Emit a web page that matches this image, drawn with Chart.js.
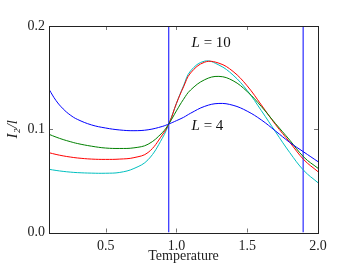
<!DOCTYPE html>
<html>
<head>
<meta charset="utf-8">
<script src="https://cdn.jsdelivr.net/npm/chart.js@4"></script>
<style>
  html, body { margin: 0; padding: 0; background: #fff; }
  #wrap { width: 353px; height: 265px; }
</style>
</head>
<body>
<div id="wrap"><canvas id="chart" width="353" height="265"></canvas></div>
<script>
// Temperature samples shared by all curves
const temps = [0.1, 0.15, 0.2, 0.25, 0.3, 0.4, 0.5, 0.6, 0.7, 0.8, 0.9, 0.95, 1.0, 1.05, 1.1, 1.2, 1.3, 1.4, 1.5, 1.6, 1.7, 1.8, 1.9, 2.0];

// I2/l for each lattice size (blue = L=4 ... cyan = L=10)
const blueVals  = [0.1387, 0.1277, 0.1197, 0.1138, 0.1096, 0.1042, 0.1012, 0.0993, 0.0986, 0.0995, 0.1027, 0.1053, 0.1083, 0.1115, 0.1155, 0.1222, 0.1250, 0.1232, 0.1175, 0.1090, 0.0983, 0.0873, 0.0779, 0.0686];
const greenVals = [0.0951, 0.0924, 0.0900, 0.0880, 0.0862, 0.0836, 0.0818, 0.0814, 0.0820, 0.0855, 0.0967, 0.1060, 0.1178, 0.1290, 0.1380, 0.1480, 0.1512, 0.1470, 0.1365, 0.1220, 0.1055, 0.0895, 0.0730, 0.0622];
const redVals   = [0.0773, 0.0756, 0.0742, 0.0731, 0.0722, 0.0711, 0.0708, 0.0711, 0.0725, 0.0775, 0.0944, 0.1062, 0.1250, 0.1410, 0.1545, 0.1650, 0.1640, 0.1560, 0.1420, 0.1235, 0.1045, 0.0875, 0.0705, 0.0589];
const cyanVals  = [0.0612, 0.0601, 0.0592, 0.0585, 0.0580, 0.0575, 0.0574, 0.0582, 0.0620, 0.0705, 0.0912, 0.1063, 0.1250, 0.1420, 0.1565, 0.1660, 0.1622, 0.1525, 0.1375, 0.1180, 0.0975, 0.0775, 0.0600, 0.0482];

// vertical marker lines
const markerTemps = [0.946, 1.895];

// axis ticks
const xTicks = [0.5, 1.0, 1.5, 2.0];
const yTicks = [0.0, 0.1, 0.2];

// text labels inside the plot
const labels = [
  { x: 1.107, y: 0.1835, size: '10' },
  { x: 1.107, y: 0.1031, size: '4' }
];

const serif = '"Liberation Serif", "DejaVu Serif", serif';

function curve(vals, color) {
  return {
    data: temps.map((t, i) => ({ x: t, y: vals[i] })),
    borderColor: color,
    borderWidth: 1,
    pointRadius: 0,
    tension: 0.4,
    fill: false
  };
}

let datasets = [
  curve(blueVals, '#0000ff'),
  curve(greenVals, '#008000'),
  curve(redVals, '#ff0000'),
  curve(cyanVals, '#00bfbf')
];
markerTemps.forEach(t => {
  datasets.push({
    data: [{ x: t, y: 0 }, { x: t, y: 0.2 }],
    borderColor: '#0000ff',
    borderWidth: 1,
    pointRadius: 0,
    fill: false
  });
});

// frame, inward ticks and the L labels
const decor = {
  id: 'decor',
  afterDatasetsDraw(chart) {
    const c = chart.ctx;
    const a = chart.chartArea;
    const xs = chart.scales.x, ys = chart.scales.y;
    c.save();
    c.strokeStyle = '#777';
    c.lineWidth = 1;
    c.beginPath();
    xTicks.forEach(v => {
      const px = Math.round(xs.getPixelForValue(v)) + 0.5;
      c.moveTo(px, a.bottom); c.lineTo(px, a.bottom - 4);
      c.moveTo(px, a.top); c.lineTo(px, a.top + 4);
    });
    yTicks.forEach(v => {
      const py = Math.round(ys.getPixelForValue(v)) + 0.5;
      c.moveTo(a.left, py); c.lineTo(a.left + 4, py);
      c.moveTo(a.right, py); c.lineTo(a.right - 4, py);
    });
    c.stroke();
    c.strokeStyle = '#222';
    c.strokeRect(Math.round(a.left) + 0.5, Math.round(a.top) + 0.5,
                 Math.round(a.right - a.left), Math.round(a.bottom - a.top));

    c.fillStyle = '#111';
    c.textBaseline = 'middle';
    labels.forEach(l => {
      let px = xs.getPixelForValue(l.x);
      const py = ys.getPixelForValue(l.y);
      c.font = 'italic 15px ' + serif;
      c.fillText('L', px, py);
      px += c.measureText('L').width;
      c.font = '15px ' + serif;
      c.fillText(' = ' + l.size, px, py);
    });
    c.restore();
  }
};

new Chart(document.getElementById('chart'), {
  type: 'line',
  data: { datasets: datasets },
  options: {
    responsive: false,
    animation: false,
    events: [],
    layout: { padding: { left: 0, top: 26, right: 35, bottom: 0 } },
    plugins: { legend: { display: false }, tooltip: { enabled: false } },
    scales: {
      x: {
        type: 'linear',
        min: 0.1,
        max: 2.0,
        afterBuildTicks: s => { s.ticks = xTicks.map(v => ({ value: v })); },
        afterFit: s => { s.height = 32.5; },
        grid: { display: false, drawTicks: false },
        border: { display: false },
        ticks: {
          padding: 5,
          color: '#222',
          font: { family: serif, size: 14 },
          callback: v => v.toFixed(1)
        },
        title: {
          display: true,
          text: 'Temperature',
          color: '#222',
          padding: { top: 0, bottom: 0 },
          font: { family: serif, size: 14 }
        }
      },
      y: {
        min: 0,
        max: 0.2,
        afterBuildTicks: s => { s.ticks = yTicks.map(v => ({ value: v })); },
        afterFit: s => { s.width = 49; },
        grid: { display: false, drawTicks: false },
        border: { display: false },
        ticks: {
          padding: 4,
          color: '#222',
          font: { family: serif, size: 14 },
          callback: v => v.toFixed(1)
        },
        title: {
          display: true,
          text: 'I₂/l',
          color: '#222',
          padding: { top: 4, bottom: 0 },
          font: { family: serif, size: 15, style: 'italic' }
        }
      }
    }
  },
  plugins: [decor]
});
</script>
</body>
</html>
